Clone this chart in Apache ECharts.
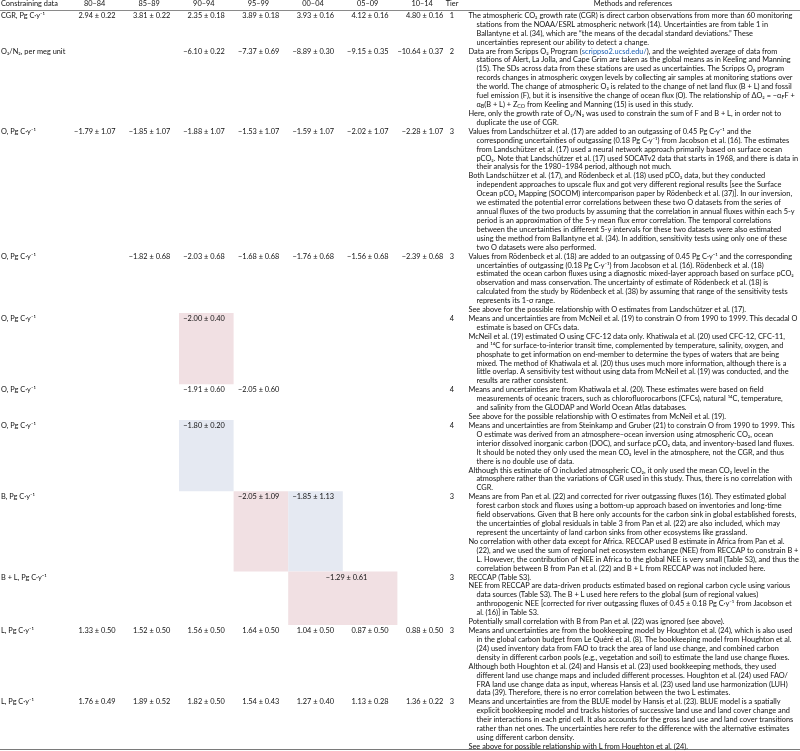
<!DOCTYPE html>
<html><head><meta charset="utf-8">
<script src="https://cdn.jsdelivr.net/npm/echarts@6/dist/echarts.min.js"></script>
<style>html,body{margin:0;padding:0;background:#fff}#c{width:800px;height:751px}</style>
</head><body><div id="c"></div>
<script>
// ---------- data ----------
const periods = ['80–84','85–89','90–94','95–99','00–04','05–09','10–14'];
const headerLabel = 'Constraining data';
const headerTier = 'Tier';
const headerMethods = 'Methods and references';
const rowLabels = ['CGR, Pg C·y⁻¹','O₂/N₂, per meg unit','O, Pg C·y⁻¹','O, Pg C·y⁻¹','O, Pg C·y⁻¹','O, Pg C·y⁻¹','O, Pg C·y⁻¹','B, Pg C·y⁻¹','B + L, Pg C·y⁻¹','L, Pg C·y⁻¹','L, Pg C·y⁻¹'];
const tiers = [1,2,3,3,4,4,4,3,3,3,3];

const cgrMean = [2.94,3.81,2.35,3.89,3.93,4.12,4.80];
const cgrUnc  = [0.22,0.22,0.18,0.18,0.16,0.16,0.16];
const o2n2Mean = [null,null,-6.10,-7.37,-8.89,-9.15,-10.64];
const o2n2Unc  = [null,null,0.22,0.69,0.30,0.35,0.37];
const oLandMean = [-1.79,-1.85,-1.88,-1.53,-1.59,-2.02,-2.28];
const oLandUnc  = [1.07,1.07,1.07,1.07,1.07,1.07,1.07];
const oRoedMean = [null,-1.82,-2.03,-1.68,-1.76,-1.56,-2.39];
const oRoedUnc  = [null,0.68,0.68,0.68,0.68,0.68,0.68];
const oMcNeilMean = [null,null,-2.00,null,null,null,null];
const oMcNeilUnc  = [null,null,0.40,null,null,null,null];
const oKhatMean = [null,null,-1.91,-2.05,null,null,null];
const oKhatUnc  = [null,null,0.60,0.60,null,null,null];
const oSteinMean = [null,null,-1.80,null,null,null,null];
const oSteinUnc  = [null,null,0.20,null,null,null,null];
const bMean = [null,null,null,-2.05,-1.85,null,null];
const bUnc  = [null,null,null,1.09,1.13,null,null];
const blMean = [null,null,null,null,-1.29,null,null];
const blUnc  = [null,null,null,null,0.61,null,null];
const lHoughMean = [1.33,1.52,1.56,1.64,1.04,0.87,0.88];
const lHoughUnc  = [0.50,0.50,0.50,0.50,0.50,0.50,0.50];
const lBlueMean = [1.76,1.89,1.82,1.54,1.27,1.13,1.36];
const lBlueUnc  = [0.49,0.52,0.50,0.43,0.40,0.28,0.22];

const rowMeans = [cgrMean,o2n2Mean,oLandMean,oRoedMean,oMcNeilMean,oKhatMean,oSteinMean,bMean,blMean,lHoughMean,lBlueMean];
const rowUncs  = [cgrUnc,o2n2Unc,oLandUnc,oRoedUnc,oMcNeilUnc,oKhatUnc,oSteinUnc,bUnc,blUnc,lHoughUnc,lBlueUnc];

// highlighted cells: row, first column, number of columns, tone
const shadedCells = [
  {row:4, col:2, span:1, tone:'warm'},
  {row:6, col:2, span:1, tone:'cool'},
  {row:7, col:3, span:1, tone:'warm'},
  {row:7, col:4, span:1, tone:'cool'},
  {row:8, col:4, span:2, tone:'warm'}
];

const methods = [
 [[
  'The atmospheric CO₂ growth rate (CGR) is direct carbon observations from more than 60 monitoring',
  'stations from the NOAA/ESRL atmospheric network (14). Uncertainties are from table 1 in',
  'Ballantyne et al. (34), which are “the means of the decadal standard deviations.” These',
  'uncertainties represent our ability to detect a change.'
 ]],
 [[
  'Data are from Scripps O₂ Program ({link|scrippso2.ucsd.edu/}), and the weighted average of data from',
  'stations of Alert, La Jolla, and Cape Grim are taken as the global means as in Keeling and Manning',
  '(15). The SDs across data from these stations are used as uncertainties. The Scripps O₂ program',
  'records changes in atmospheric oxygen levels by collecting air samples at monitoring stations over',
  'the world. The change of atmospheric O₂ is related to the change of net land flux (B + L) and fossil',
  'fuel emission (F), but it is insensitive the change of ocean flux (O). The relationship of ΔO₂ = −α{sub|F}F +',
  'α{sub|B}(B + L) + Z{sub|CO} from Keeling and Manning (15) is used in this study.'
 ],[
  'Here, only the growth rate of O₂/N₂ was used to constrain the sum of F and B + L, in order not to',
  'duplicate the use of CGR.'
 ]],
 [[
  'Values from Landschützer et al. (17) are added to an outgassing of 0.45 Pg C·y⁻¹ and the',
  'corresponding uncertainties of outgassing (0.18 Pg C·y⁻¹) from Jacobson et al. (16). The estimates',
  'from Landschützer et al. (17) used a neural network approach primarily based on surface ocean',
  'pCO₂. Note that Landschützer et al. (17) used SOCATv2 data that starts in 1968, and there is data in',
  'their analysis for the 1980–1984 period, although not much.'
 ],[
  'Both Landschützer et al. (17), and Rödenbeck et al. (18) used pCO₂ data, but they conducted',
  'independent approaches to upscale flux and got very different regional results [see the Surface',
  'Ocean pCO₂ Mapping (SOCOM) intercomparison paper by Rödenbeck et al. (37)]. In our inversion,',
  'we estimated the potential error correlations between these two O datasets from the series of',
  'annual fluxes of the two products by assuming that the correlation in annual fluxes within each 5-y',
  'period is an approximation of the 5-y mean flux error correlation. The temporal correlations',
  'between the uncertainties in different 5-y intervals for these two datasets were also estimated',
  'using the method from Ballantyne et al. (34). In addition, sensitivity tests using only one of these',
  'two O datasets were also performed.'
 ]],
 [[
  'Values from Rödenbeck et al. (18) are added to an outgassing of 0.45 Pg C·y⁻¹ and the corresponding',
  'uncertainties of outgassing (0.18 Pg C·y⁻¹) from Jacobson et al. (16). Rödenbeck et al. (18)',
  'estimated the ocean carbon fluxes using a diagnostic mixed-layer approach based on surface pCO₂',
  'observation and mass conservation. The uncertainty of estimate of Rödenbeck et al. (18) is',
  'calculated from the study by Rödenbeck et al. (38) by assuming that range of the sensitivity tests',
  'represents its 1-σ range.'
 ],[
  'See above for the possible relationship with O estimates from Landschützer et al. (17).'
 ]],
 [[
  'Means and uncertainties are from McNeil et al. (19) to constrain O from 1990 to 1999. This decadal O',
  'estimate is based on CFCs data.'
 ],[
  'McNeil et al. (19) estimated O using CFC-12 data only. Khatiwala et al. (20) used CFC-12, CFC-11,',
  'and ¹⁴C for surface-to-interior transit time, complemented by temperature, salinity, oxygen, and',
  'phosphate to get information on end-member to determine the types of waters that are being',
  'mixed. The method of Khatiwala et al. (20) thus uses much more information, although there is a',
  'little overlap. A sensitivity test without using data from McNeil et al. (19) was conducted, and the',
  'results are rather consistent.'
 ]],
 [[
  'Means and uncertainties are from Khatiwala et al. (20). These estimates were based on field',
  'measurements of oceanic tracers, such as chlorofluorocarbons (CFCs), natural ¹⁴C, temperature,',
  'and salinity from the GLODAP and World Ocean Atlas databases.'
 ],[
  'See above for the possible relationship with O estimates from McNeil et al. (19).'
 ]],
 [[
  'Means and uncertainties are from Steinkamp and Gruber (21) to constrain O from 1990 to 1999. This',
  'O estimate was derived from an atmosphere–ocean inversion using atmospheric CO₂, ocean',
  'interior dissolved inorganic carbon (DOC), and surface pCO₂ data, and inventory-based land fluxes.',
  'It should be noted they only used the mean CO₂ level in the atmosphere, not the CGR, and thus',
  'there is no double use of data.'
 ],[
  'Although this estimate of O included atmospheric CO₂, it only used the mean CO₂ level in the',
  'atmosphere rather than the variations of CGR used in this study. Thus, there is no correlation with',
  'CGR.'
 ]],
 [[
  'Means are from Pan et al. (22) and corrected for river outgassing fluxes (16). They estimated global',
  'forest carbon stock and fluxes using a bottom-up approach based on inventories and long-time',
  'field observations. Given that B here only accounts for the carbon sink in global established forests,',
  'the uncertainties of global residuals in table 3 from Pan et al. (22) are also included, which may',
  'represent the uncertainty of land carbon sinks from other ecosystems like grassland.'
 ],[
  'No correlation with other data except for Africa. RECCAP used B estimate in Africa from Pan et al.',
  '(22), and we used the sum of regional net ecosystem exchange (NEE) from RECCAP to constrain B +',
  'L. However, the contribution of NEE in Africa to the global NEE is very small (Table S3), and thus the',
  'correlation between B from Pan et al. (22) and B + L from RECCAP was not included here.'
 ]],
 [[
  'RECCAP (Table S3).'
 ],[
  'NEE from RECCAP are data-driven products estimated based on regional carbon cycle using various',
  'data sources (Table S3). The B + L used here refers to the global (sum of regional values)',
  'anthropogenic NEE [corrected for river outgassing fluxes of 0.45 ± 0.18 Pg C·y⁻¹ from Jacobson et',
  'al. (16)] in Table S3.'
 ],[
  'Potentially small correlation with B from Pan et al. (22) was ignored (see above).'
 ]],
 [[
  'Means and uncertainties are from the bookkeeping model by Houghton et al. (24), which is also used',
  'in the global carbon budget from Le Quéré et al. (8). The bookkeeping model from Houghton et al.',
  '(24) used inventory data from FAO to track the area of land use change, and combined carbon',
  'density in different carbon pools (e.g., vegetation and soil) to estimate the land use change fluxes.'
 ],[
  'Although both Houghton et al. (24) and Hansis et al. (23) used bookkeeping methods, they used',
  'different land use change maps and included different processes. Houghton et al. (24) used FAO/',
  'FRA land use change data as input, whereas Hansis et al. (23) used land use harmonization (LUH)',
  'data (39). Therefore, there is no error correlation between the two L estimates.'
 ]],
 [[
  'Means and uncertainties are from the BLUE model by Hansis et al. (23). BLUE model is a spatially',
  'explicit bookkeeping model and tracks histories of successive land use and land cover change and',
  'their interactions in each grid cell. It also accounts for the gross land use and land cover transitions',
  'rather than net ones. The uncertainties here refer to the difference with the alternative estimates',
  'using different carbon density.'
 ],[
  'See above for possible relationship with L from Houghton et al. (24).'
 ]]
];

// ---------- layout / styles ----------
const FONT = 'Lato, "Open Sans", sans-serif';
const TEXT = '#111';
const TONES = {warm:'#f1e0e3', cool:'#e5e9f2'};
const X_LABEL = 1, X_TIER = 452, X_FIRST = 468.5, X_CONT = 476.5, VAL_OFF = 18.5, SPAN_EXTRA = 6, X_RIGHT = 799.5;
const TEXT_DY = 0.64; // text centre inside a line slot

// fit font size so that the widest methods line just fits the column
const cv = document.createElement('canvas').getContext('2d');
cv.font = '100px ' + FONT;
let FS = 7.6;
methods.forEach(paras => paras.forEach(p => p.forEach((t, j) => {
  const plain = t.replace(/\{\w+\|([^}]*)\}/g, '$1');
  const w = cv.measureText(plain).width;
  const avail = X_RIGHT - (j > 0 ? X_CONT : X_FIRST);
  FS = Math.min(FS, 100 * avail / w);
})));

// line bookkeeping
const rowStart = [];
let nLines = 0;
methods.forEach((paras, r) => {
  rowStart[r] = nLines;
  paras.forEach(p => { nLines += p.length; });
});
rowStart[methods.length] = nLines;

const methodItems = [];
methods.forEach((paras, r) => {
  let ln = rowStart[r];
  paras.forEach(p => p.forEach((t, j) => { methodItems.push({line: ln++, text: t, cont: j > 0}); }));
});

const valueItems = [];
rowMeans.forEach((arr, r) => arr.forEach((m, c) => {
  if (m == null) return;
  const sc = shadedCells.find(s => s.row === r && s.col === c);
  const u = rowUncs[r][c];
  valueItems.push({row: r, col: c, span: sc ? sc.span : 1,
    text: (m < 0 ? '−' : '') + Math.abs(m).toFixed(2) + ' ± ' + u.toFixed(2)});
}));

const rich = {
  link: {fill: '#1a5fb4', color: '#1a5fb4', fontSize: FS, fontFamily: FONT},
  sub: {fontSize: FS * 0.72, fontFamily: FONT, verticalAlign: 'bottom', lineHeight: FS * 1.05}
};
function txt(x, y, text, align) {
  return {type: 'text', x: x, y: y, style: {text: text, fill: TEXT, fontSize: FS, fontFamily: FONT,
    align: align || 'left', verticalAlign: 'middle', rich: rich}};
}

const chart = echarts.init(document.getElementById('c'), null, {renderer: 'canvas'});
chart.setOption({
  animation: false,
  backgroundColor: '#fff',
  grid: {left: 69.8, right: 348, top: 9.8, bottom: 751 - 9.8 - nLines * 8.915, outerBoundsMode: 'none'},
  xAxis: {type: 'category', data: periods, position: 'top',
    axisLine: {show: false}, axisTick: {show: false}, splitLine: {show: false},
    axisLabel: {color: TEXT, fontSize: FS, fontFamily: FONT, margin: 2.2, padding: [0, 5, 0, 0], interval: 0}},
  yAxis: {type: 'value', min: 0, max: nLines, inverse: true, show: false},
  series: [
    { type: 'custom', name: 'shade', silent: true, z: 1,
      data: shadedCells.map(s => [s.col, s.row]),
      renderItem: (p, api) => {
        const s = shadedCells[p.dataIndex];
        const w = api.size([1, 0])[0];
        const a = api.coord([s.col, rowStart[s.row]]);
        const b = api.coord([s.col + s.span - 1, rowStart[s.row + 1]]);
        return {type: 'rect', shape: {x: a[0] - w / 2, y: a[1], width: b[0] - a[0] + w, height: b[1] - a[1]},
          style: {fill: TONES[s.tone]}};
      }},
    { type: 'custom', name: 'rules', silent: true, z: 2,
      data: [[0, 0], [0, nLines]],
      renderItem: (p, api) => {
        const y = Math.round(api.coord([0, api.value(1)])[1]) + (p.dataIndex ? -0.5 : 0.5);
        return {type: 'line', shape: {x1: 0, y1: y, x2: 800, y2: y},
          style: {stroke: p.dataIndex ? '#7a7a7a' : '#8a8a8a', lineWidth: 1}};
      }},
    { type: 'custom', name: 'header', silent: true, z: 3,
      data: [[0, -0.65]],
      renderItem: (p, api) => {
        const y = api.coord([0, -0.65])[1];
        return {type: 'group', children: [
          txt(X_LABEL, y, headerLabel), txt(X_TIER, y, headerTier, 'center'), txt(633, y, headerMethods, 'center')]};
      }},
    { type: 'custom', name: 'rows', silent: true, z: 3,
      data: rowLabels.map((l, r) => [0, rowStart[r]]),
      renderItem: (p, api) => {
        const r = p.dataIndex;
        const y = api.coord([0, rowStart[r] + TEXT_DY])[1];
        return {type: 'group', children: [txt(X_LABEL, y, rowLabels[r]), txt(X_TIER, y, String(tiers[r]), 'center')]};
      }},
    { type: 'custom', name: 'values', silent: true, z: 3,
      data: valueItems.map(v => [v.col, rowStart[v.row]]),
      renderItem: (p, api) => {
        const v = valueItems[p.dataIndex];
        const a = api.coord([v.col, rowStart[v.row] + TEXT_DY]);
        const b = api.coord([v.col + v.span - 1, rowStart[v.row] + TEXT_DY]);
        const x = (a[0] + b[0]) / 2 + VAL_OFF + (v.span > 1 ? SPAN_EXTRA : 0);
        return txt(x, a[1], v.text, 'right');
      }},
    { type: 'custom', name: 'methods', silent: true, z: 3,
      data: methodItems.map(m => [0, m.line]),
      renderItem: (p, api) => {
        const m = methodItems[p.dataIndex];
        const y = api.coord([0, m.line + TEXT_DY])[1];
        return txt(m.cont ? X_CONT : X_FIRST, y, m.text);
      }}
  ]
});
</script></body></html>
